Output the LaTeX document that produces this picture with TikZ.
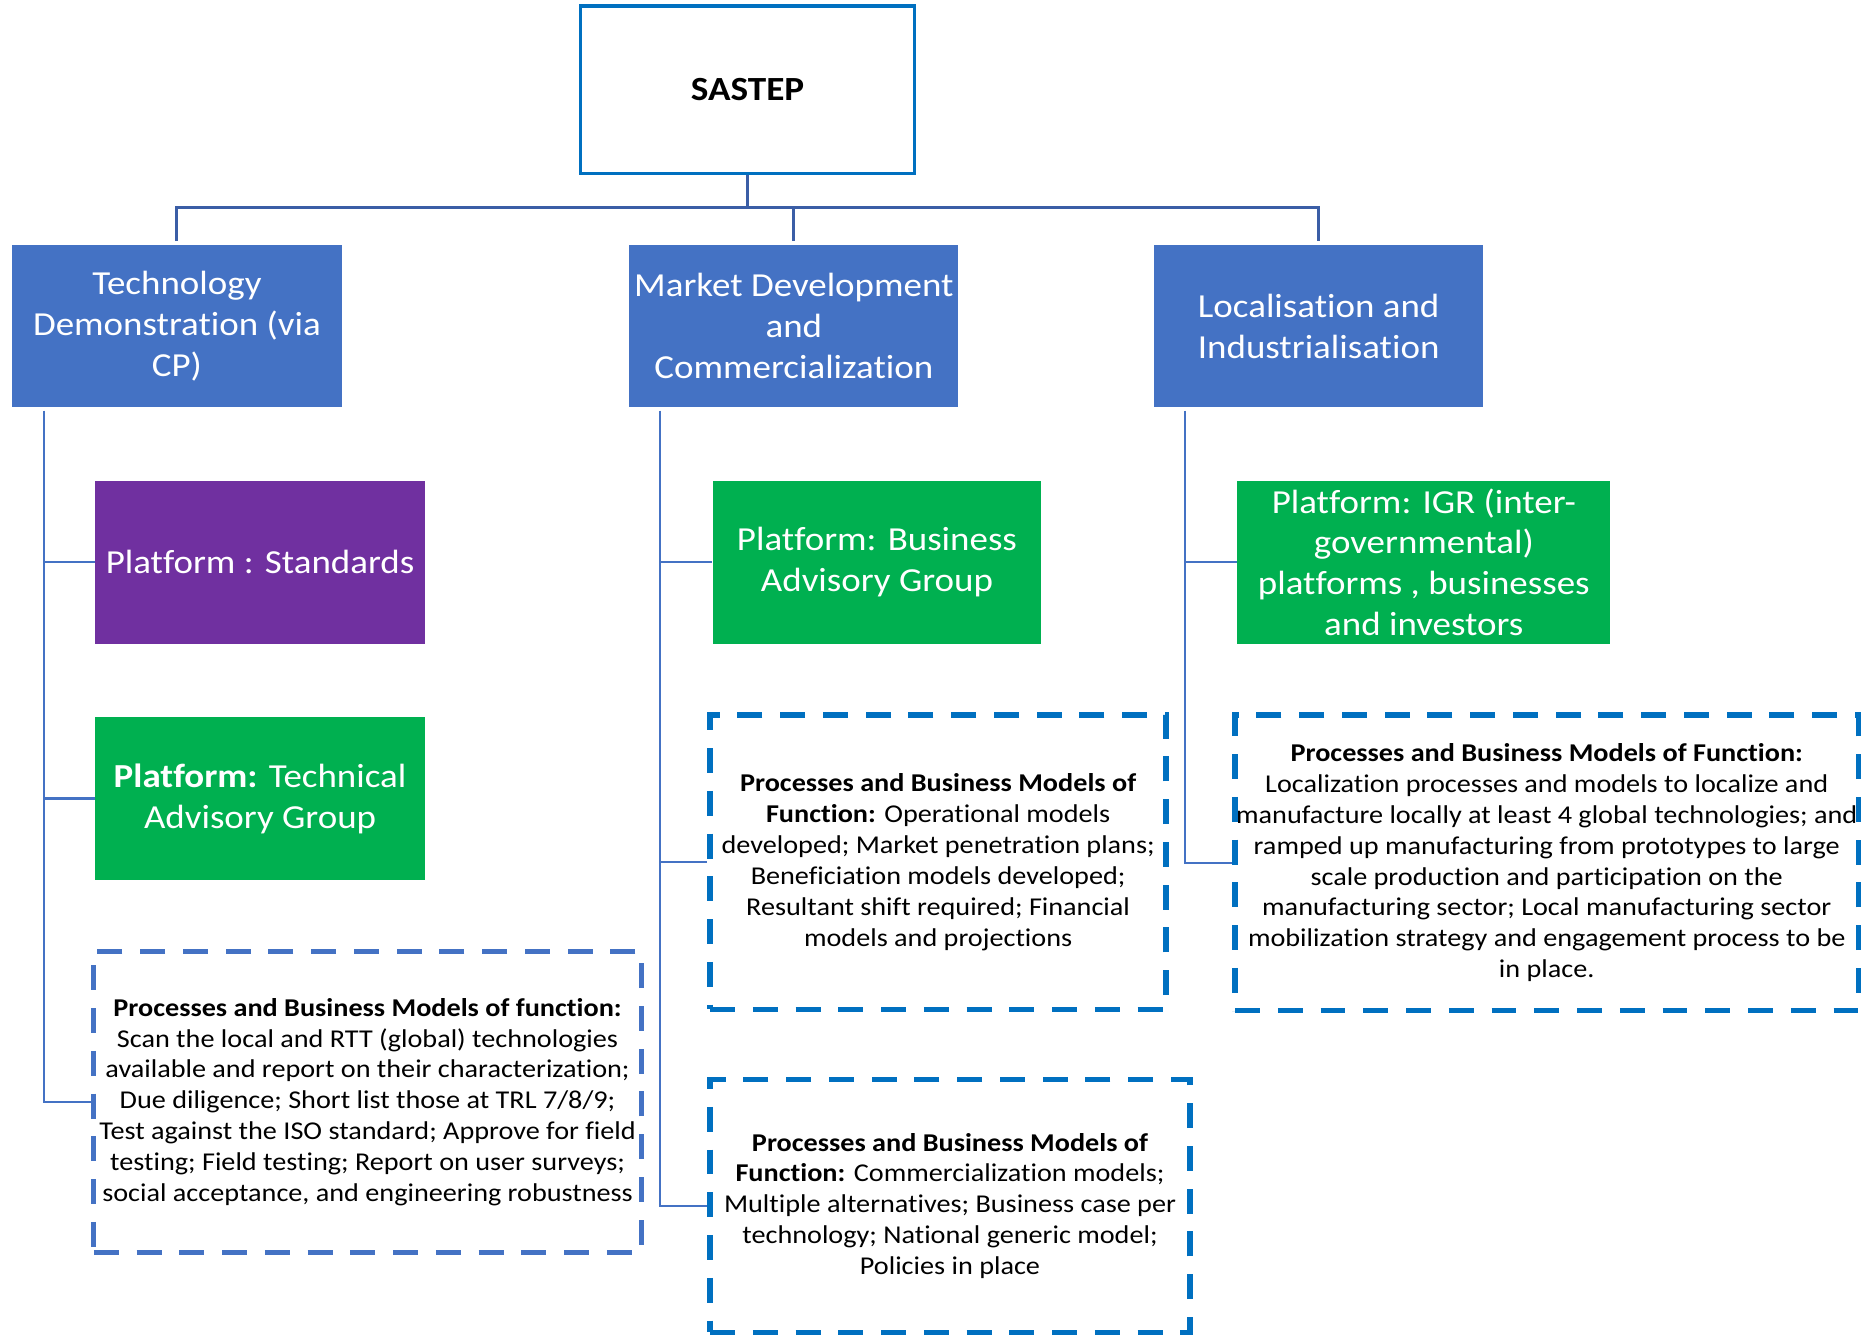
\documentclass[tikz,border=0pt]{standalone}
\usepackage{fontspec}
\setmainfont{Carlito}[FakeStretch=1.1, Ligatures=NoCommon]
\definecolor{boxblue}{HTML}{4472C4}
\definecolor{ppurple}{HTML}{7030A0}
\definecolor{pgreen}{HTML}{00B050}
\definecolor{accblue}{HTML}{0070C0}
\definecolor{treeblue}{HTML}{3B5EA6}
\tikzset{
  big/.style={font=\fontsize{28.3}{34.5}\selectfont},
  small/.style={font=\fontsize{21.6}{26}\selectfont},
  solidbox/.style={rectangle, inner sep=0pt, align=center, text=white, big,
    minimum height=137pt},
  dashbox/.style={rectangle, inner sep=0pt, align=center, text=black, small,
    draw=accblue, line width=4.5pt, dash pattern=on 21pt off 15pt},
  dashboxlight/.style={dashbox, draw=boxblue, line width=4pt},
  treeline/.style={draw=treeblue, line width=2.5pt},
  branch/.style={draw=boxblue, line width=2pt},
}
\begin{document}
\begin{tikzpicture}[x=1pt,y=-1pt]
\useasboundingbox (0,0) rectangle (1568,1125);
% top node
\node[rectangle, draw=accblue, line width=3pt, minimum width=281pt, minimum height=141pt,
  font=\fontsize{28.5}{34}\selectfont\bfseries] (sastep) at (629.5,75.5) {SASTEP};
% level 1
\node[solidbox, fill=boxblue, minimum width=278pt] (tech) at (149,274.5)
  {Technology\\Demonstration (via\\CP)};
\node[solidbox, fill=boxblue, minimum width=277pt] (market) at (668.5,274.5)
  {Market Development\\and\\Commercialization};
\node[solidbox, fill=boxblue, minimum width=277pt] (loc) at (1110.5,274.5)
  {Localisation and\\Industrialisation};
% platforms
\node[solidbox, fill=ppurple, minimum width=278pt] (std) at (219,473.5)
  {Platform : Standards};
\node[solidbox, fill=pgreen, minimum width=278pt] (tag) at (219,672.5)
  {\textbf{Platform:} Technical\\Advisory Group};
\node[solidbox, fill=pgreen, minimum width=277pt] (bag) at (738.5,473.5)
  {Platform: Business\\Advisory Group};
\node[solidbox, fill=pgreen, minimum width=314pt] (igr) at (1199,473.5)
  {Platform: IGR (inter-\\governmental)\\platforms , businesses\\and investors};
% dashed process boxes
\node[dashboxlight, minimum width=461pt, minimum height=254pt] (d1) at (309.5,928)
  {\textbf{Processes and Business Models of function:}\\
   Scan the local and RTT (global) technologies\\
   available and report on their characterization;\\
   Due diligence; Short list those at TRL 7/8/9;\\
   Test against the ISO standard; Approve for field\\
   testing; Field testing; Report on user surveys;\\
   social acceptance, and engineering robustness};
\node[dashbox, minimum width=384pt, minimum height=248pt] (d2) at (790,726)
  {\textbf{Processes and Business Models of}\\
   \textbf{Function:} Operational models\\
   developed; Market penetration plans;\\
   Beneficiation models developed;\\
   Resultant shift required; Financial\\
   models and projections};
\node[dashbox, minimum width=404pt, minimum height=213pt] (d3) at (800,1015.5)
  {\textbf{Processes and Business Models of}\\
   \textbf{Function:} Commercialization models;\\
   Multiple alternatives; Business case per\\
   technology; National generic model;\\
   Policies in place};
\node[dashbox, minimum width=525pt, minimum height=249pt] (d4) at (1302.5,726.5)
  {\textbf{Processes and Business Models of Function:}\\
   Localization processes and models to localize and\\
   manufacture locally at least 4 global technologies; and\\
   ramped up manufacturing from prototypes to large\\
   scale production and participation on the\\
   manufacturing sector; Local manufacturing sector\\
   mobilization strategy and engagement process to be\\
   in place.};
% tree connectors
\coordinate (hub) at (629.5,175);
\coordinate (techtop) at (149,203);
\coordinate (markettop) at (668.5,203);
\coordinate (loctop) at (1110.5,203);
\draw[treeline] (sastep.south) -- (hub);
\draw[treeline] (techtop) |- (hub) -| (loctop);
\draw[treeline] (markettop) -- (markettop |- hub);
% branches
\coordinate (t0) at (37,346);
\coordinate (m0) at (556,346);
\coordinate (l0) at (998,346);
\draw[branch] (t0) |- (std.west);
\draw[branch] (t0) |- (tag.west);
\draw[branch] (t0) |- (d1.west);
\draw[branch] (m0) |- (bag.west);
\draw[branch] (m0) |- (d2.west);
\draw[branch] (m0) |- (d3.west);
\draw[branch] (l0) |- (igr.west);
\draw[branch] (l0) |- (d4.west);
\end{tikzpicture}
\end{document}
